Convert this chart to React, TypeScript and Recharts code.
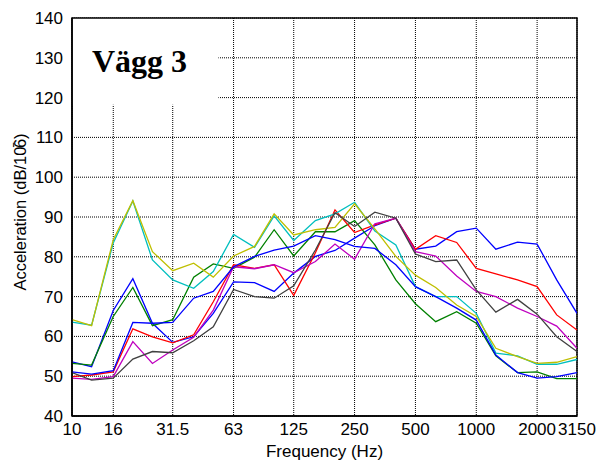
import {
  LineChart,
  Line,
  XAxis,
  YAxis,
  CartesianGrid,
  ReferenceArea,
} from "recharts";

// third-octave band centres (Hz)
const freqs = [10, 12.5, 16, 20, 25, 31.5, 40, 50, 63, 80, 100, 125, 160, 200, 250, 315, 400, 500, 630, 800, 1000, 1250, 1600, 2000, 2500, 3150];

const blueA = [53.6, 52.4, 66.5, 74.5, 63.3, 58.5, 59.9, 65.8, 73.7, 73.5, 71.3, 75.9, 80.1, 81.6, 84.7, 87.8, 89.7, 81.9, 82.7, 86.3, 87.2, 81.9, 83.7, 83.2, 74.2, 65.8];
const green = [53.2, 52.8, 65, 72.3, 62.7, 64.2, 74.9, 78.2, 77.1, 79.9, 86.8, 80.2, 86.3, 86.3, 89.1, 83, 74.2, 68.2, 63.7, 66.2, 63.3, 55.1, 50.9, 51.1, 49.4, 49.4];
const red = [49.9, 50.3, 51.1, 61.9, 59.9, 58.4, 60.4, 68.7, 78, 77.1, 78, 70.3, 81, 91.8, 86.1, 88, 89.7, 81.9, 85.3, 83.6, 77.1, 75.7, 74.2, 72.5, 65.4, 61.6];
const cyan = [63.6, 62.8, 83.5, 94, 79.2, 74.2, 72.1, 76.3, 85.6, 82.4, 90.3, 84.1, 89.1, 90.8, 93.7, 86.5, 83, 72.5, 70, 70, 65.8, 55.8, 55.1, 53, 53, 54.2];
const magenta = [49.5, 49.2, 49.9, 58.7, 53.2, 56.6, 59.8, 66.6, 77.5, 77, 78, 76, 78.8, 83.2, 79.4, 88.3, 89.7, 81.3, 80.2, 75.2, 71.3, 70, 67.1, 65, 62.6, 57];
const yellow = [64.2, 62.7, 84.3, 94.1, 81.3, 76.5, 78.4, 74.9, 80.2, 82.6, 90.8, 85.5, 86.8, 87.4, 93.3, 87, 80.1, 75.4, 72.3, 67.9, 65, 57, 54.9, 53.2, 53.5, 54.9];
const black = [50.9, 49, 49.5, 54.3, 56.2, 55.9, 58.9, 62.4, 71.8, 70, 69.6, 72.7, 81.7, 91.1, 87.6, 91.2, 89.7, 80.7, 78.8, 79.2, 71.7, 66.1, 69.3, 65.6, 59.9, 56.2];
const blueB = [51.1, 50.5, 51.4, 63.5, 63.3, 63.5, 69.6, 71.3, 77.5, 80.1, 81.7, 82.7, 85.3, 84.3, 82.6, 82.1, 78, 72.5, 70, 67.1, 64.1, 55.3, 50.9, 49.5, 49.9, 50.9];

const xTicks = [10, 16, 31.5, 63, 125, 250, 500, 1000, 2000, 3150];
const yTicks = [40, 50, 60, 70, 80, 90, 100, 110, 120, 130, 140];

const series = [
  { key: "blueA", values: blueA, color: "#0000ff" },
  { key: "green", values: green, color: "#008000" },
  { key: "red", values: red, color: "#ff0000" },
  { key: "cyan", values: cyan, color: "#00bfbf" },
  { key: "magenta", values: magenta, color: "#bf00bf" },
  { key: "yellow", values: yellow, color: "#bfbf00" },
  { key: "black", values: black, color: "#404040" },
  { key: "blueB", values: blueB, color: "#0000ff" },
];

const data = freqs.map((f, i) => {
  const row: Record<string, number> = { f };
  for (const s of series) row[s.key] = s.values[i];
  return row;
});

const FONT = "'Liberation Sans', Arial, sans-serif";
const tickStyle = { fontSize: 17, fill: "#000", fontFamily: FONT };

export default function App() {
  return (
    <div style={{ position: "absolute", left: 0, top: 0, width: 603, height: 468, background: "#fff" }}>
      <LineChart width={603} height={468} data={data} margin={{ top: 18, right: 26, bottom: 0, left: 12 }}>
        <CartesianGrid stroke="#000" strokeDasharray="1 1" strokeWidth={1} />
        <XAxis
          dataKey="f"
          type="number"
          scale="log"
          domain={[10, 3150]}
          ticks={xTicks}
          interval={0}
          allowDataOverflow
          height={52}
          tickLine={false}
          tickSize={0}
          tickMargin={7}
          axisLine={{ stroke: "#000", strokeWidth: 1.5 }}
          tick={tickStyle}
          label={{ value: "Frequency (Hz)", position: "insideBottom", offset: 11, style: { fontSize: 17, fill: "#000", fontFamily: FONT } }}
        />
        <YAxis
          type="number"
          domain={[40, 140]}
          ticks={yTicks}
          interval={0}
          width={60}
          tickLine={false}
          tickSize={0}
          tickMargin={9}
          axisLine={{ stroke: "#000", strokeWidth: 1.5 }}
          tick={tickStyle}
          label={{
            content: (props: any) => {
              const vb = props.viewBox;
              const cx = vb.x + 7.5;
              const cy = vb.y + vb.height / 2 - 5;
              return (
                <text x={cx} y={cy} transform={`rotate(-90 ${cx} ${cy})`} textAnchor="middle" dominantBaseline="central"
                  style={{ fontSize: 16.5, fill: "#000", fontFamily: FONT }}>
                  Acceleration (dB/10<tspan dx={-1} dy={-2}>ˉ</tspan><tspan dx={-6} dy={2}>6)</tspan>
                </text>
              );
            },
          }}
        />
        <ReferenceArea
          x1={10}
          x2={53}
          y1={118.2}
          y2={140}
          fill="#fff"
          fillOpacity={1}
          stroke="none"
          label={{
            content: (props: any) => {
              const vb = props.viewBox;
              return (
                <text x={vb.x + 20} y={vb.y + 53.5}
                  style={{ fontSize: 32, fontWeight: "bold", fill: "#000", fontFamily: "'Liberation Serif', 'Times New Roman', serif" }}>
                  Vägg 3
                </text>
              );
            },
          }}
        />
        {series.map((s) => (
          <Line
            key={s.key}
            dataKey={s.key}
            type="linear"
            stroke={s.color}
            strokeWidth={1.3}
            dot={false}
            isAnimationActive={false}
          />
        ))}
        <ReferenceArea x1={10} x2={3150} y1={40} y2={140} fill="none" stroke="#000" strokeWidth={1.5} />
      </LineChart>
    </div>
  );
}
